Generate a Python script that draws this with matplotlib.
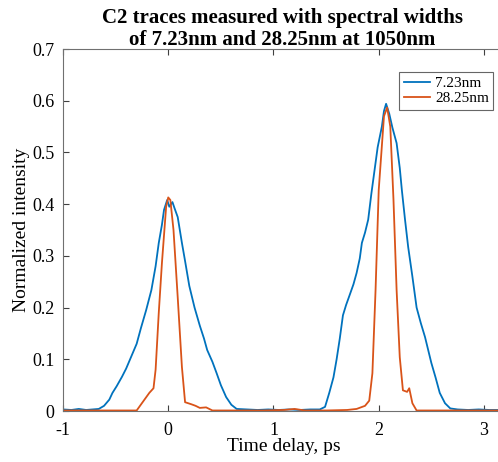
import matplotlib.pyplot as plt
import numpy as np

plt.rcParams['font.family'] = ['Liberation Serif', 'DejaVu Serif']

# 7.23 nm trace
t_narrow = [-1.0, -0.92, -0.85, -0.78, -0.72, -0.66, -0.61, -0.56, -0.53, -0.49, -0.44, -0.40,
            -0.35, -0.30, -0.26, -0.21, -0.16, -0.12, -0.09, -0.06, -0.04, -0.01, 0.01, 0.04,
            0.06, 0.09, 0.13, 0.16, 0.20, 0.25, 0.30, 0.34, 0.37, 0.42, 0.46, 0.50, 0.55, 0.60,
            0.65, 0.75, 0.85, 0.95, 1.05, 1.15, 1.25, 1.35, 1.44, 1.49, 1.53, 1.57, 1.60, 1.63,
            1.66, 1.69, 1.72, 1.76, 1.79, 1.82, 1.84, 1.87, 1.90, 1.93, 1.96, 1.99, 2.03, 2.05,
            2.07, 2.10, 2.13, 2.17, 2.20, 2.22, 2.25, 2.28, 2.32, 2.36, 2.40, 2.44, 2.47, 2.50,
            2.54, 2.58, 2.63, 2.68, 2.75, 2.85, 2.95, 3.05, 3.2]
i_narrow = [0.003, 0.002, 0.004, 0.002, 0.003, 0.004, 0.010, 0.022, 0.035, 0.048, 0.066, 0.082,
            0.106, 0.130, 0.160, 0.195, 0.234, 0.280, 0.325, 0.360, 0.389, 0.408, 0.395, 0.404,
            0.392, 0.375, 0.325, 0.290, 0.242, 0.200, 0.165, 0.140, 0.118, 0.095, 0.073, 0.050,
            0.027, 0.012, 0.004, 0.003, 0.002, 0.003, 0.002, 0.003, 0.002, 0.003, 0.003, 0.008,
            0.035, 0.065, 0.100, 0.140, 0.185, 0.205, 0.222, 0.245, 0.267, 0.295, 0.325, 0.345,
            0.370, 0.420, 0.465, 0.510, 0.550, 0.580, 0.594, 0.575, 0.548, 0.518, 0.470, 0.427,
            0.370, 0.317, 0.260, 0.200, 0.170, 0.143, 0.118, 0.093, 0.065, 0.035, 0.015, 0.005,
            0.003, 0.002, 0.003, 0.002, 0.002]

# 28.25 nm trace
t_wide = [-1.0, -0.8, -0.6, -0.45, -0.30, -0.24, -0.18, -0.14, -0.12, -0.09, -0.06, -0.02,
          0.0, 0.02, 0.05, 0.09, 0.13, 0.16, 0.22, 0.26, 0.30, 0.36, 0.42, 0.6, 0.9, 1.1,
          1.2, 1.3, 1.5, 1.70, 1.79, 1.87, 1.91, 1.94, 1.97, 2.00, 2.05, 2.08, 2.11, 2.14,
          2.17, 2.20, 2.23, 2.27, 2.29, 2.32, 2.36, 2.5, 2.8, 3.2]
i_wide = [0.001, 0.001, 0.001, 0.001, 0.001, 0.018, 0.035, 0.044, 0.080, 0.190, 0.286, 0.395,
          0.413, 0.408, 0.350, 0.220, 0.085, 0.017, 0.013, 0.010, 0.006, 0.007, 0.001, 0.001,
          0.001, 0.002, 0.004, 0.001, 0.001, 0.002, 0.004, 0.010, 0.020, 0.073, 0.234, 0.427,
          0.570, 0.587, 0.550, 0.410, 0.234, 0.104, 0.040, 0.037, 0.044, 0.015, 0.001, 0.001,
          0.001, 0.001]

x_ticks = [-1, 0, 1, 2, 3]
x_labels = ['-1', '0', '1', '2', '3']
y_ticks = [0, 0.1, 0.2, 0.3, 0.4, 0.5, 0.6, 0.7]
y_labels = ['0', '0.1', '0.2', '0.3', '0.4', '0.5', '0.6', '0.7']

blue = '#0072BD'
orange = '#D95319'

fig = plt.figure(figsize=(4.98, 4.62), dpi=100)
ax = fig.add_axes([63/498, 51/462, 442/498, 362/462])

ax.plot(t_narrow, i_narrow, color=blue, lw=1.3, label='7.23nm')
ax.plot(t_wide, i_wide, color=orange, lw=1.3, label='28.25nm')

ax.set_xlim(-1, 3.2)
ax.set_ylim(0, 0.7)
ax.set_xticks(x_ticks)
ax.set_xticklabels(x_labels)
ax.set_yticks(y_ticks)
ax.set_yticklabels(y_labels)
ax.tick_params(direction='in', top=True, right=False, labelsize=13, length=4,
               color='#404040', width=0.8)
ax.tick_params(axis='x', pad=8)
ax.tick_params(axis='y', pad=6)
for s in ax.spines.values():
    s.set_color('#707070')
    s.set_linewidth(0.8)
ax.spines['right'].set_visible(False)

ax.set_xlabel('Time delay, ps', fontsize=14, labelpad=-1)
ax.set_ylabel('Normalized intensity', fontsize=14, labelpad=2)
ax.set_title('C2 traces measured with spectral widths\nof 7.23nm and 28.25nm at 1050nm',
             fontsize=15, fontweight='bold', pad=3, x=(282-63)/442, linespacing=1.1)

leg = ax.legend(loc='upper left', bbox_to_anchor=(399/498, 1-72/462),
                bbox_transform=fig.transFigure, fontsize=11, frameon=True, fancybox=False,
                edgecolor='#404040', borderpad=0.3, handlelength=1.75, handletextpad=0.3,
                labelspacing=0.1, borderaxespad=0)
leg.get_frame().set_linewidth(0.8)

fig.savefig('out.png', dpi=100)
